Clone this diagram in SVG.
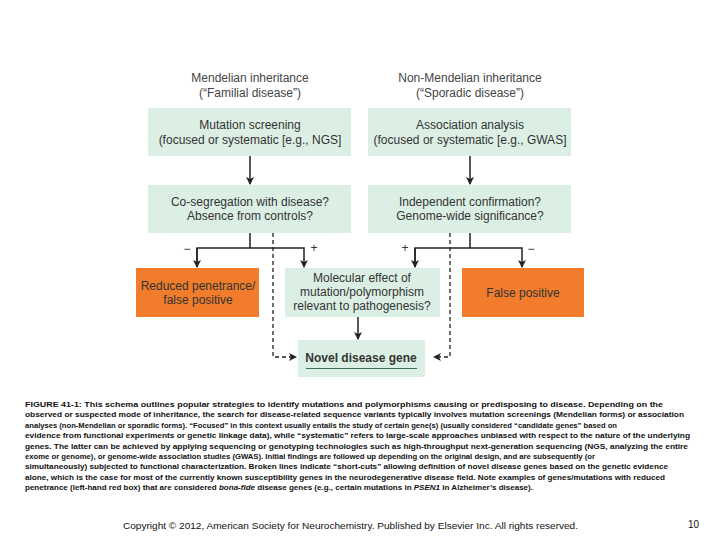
<svg xmlns="http://www.w3.org/2000/svg" width="720" height="540" viewBox="0 0 720 540">
<defs>
<style>
.hd{font-family:"Liberation Sans",Arial,sans-serif;font-size:12px;fill:#444;text-anchor:middle}
.bt{font-family:"Liberation Sans",Arial,sans-serif;font-size:12px;fill:#333;text-anchor:middle}
.g{fill:#dcefe5}
.o{fill:#f07c2c}
.ln{stroke:#222;stroke-width:1.5;fill:none}
.ds{stroke:#222;stroke-width:1.3;fill:none;stroke-dasharray:4 3}
.cap{font-family:"Liberation Sans",Arial,sans-serif;font-size:7.6px;fill:#111;font-weight:bold}
.sg{font-family:"Liberation Sans",Arial,sans-serif;font-size:12px;fill:#333;text-anchor:middle}
</style>
<marker id="ah" markerWidth="8" markerHeight="8" refX="7" refY="4" orient="auto" markerUnits="userSpaceOnUse">
<path d="M0,0 L8,4 L0,8 L2,4 Z" fill="#222"/>
</marker>
</defs>
<rect width="720" height="540" fill="#fff"/>
<g id="header-left"><text class="hd" x="250" y="82">Mendelian inheritance</text><text class="hd" x="250" y="97">(“Familial disease”)</text></g>
<g id="header-right"><text class="hd" x="470" y="82">Non-Mendelian inheritance</text><text class="hd" x="470" y="97">(“Sporadic disease”)</text></g>
<g id="mutation"><rect class="g" x="148" y="108" width="203" height="48"/><text class="bt" x="250" y="129">Mutation screening</text><text class="bt" x="250" y="144">(focused or systematic [e.g., NGS]</text></g>
<g id="association"><rect class="g" x="368" y="108" width="203" height="48"/><text class="bt" x="470" y="129">Association analysis</text><text class="bt" x="470" y="144">(focused or systematic [e.g., GWAS]</text></g>
<g id="coseg"><rect class="g" x="148" y="185" width="203" height="48"/><text class="bt" x="250" y="206">Co-segregation with disease?</text><text class="bt" x="250" y="220">Absence from controls?</text></g>
<g id="independent"><rect class="g" x="368" y="185" width="203" height="48"/><text class="bt" x="470" y="206">Independent confirmation?</text><text class="bt" x="470" y="220">Genome-wide significance?</text></g>
<g id="reduced"><rect class="o" x="136" y="268" width="123" height="49"/><text class="bt" x="198" y="290">Reduced penetrance/</text><text class="bt" x="198" y="304">false positive</text></g>
<g id="molecular"><rect class="g" x="285" y="268" width="155" height="49"/><text class="bt" x="362" y="282">Molecular effect of</text><text class="bt" x="362" y="296">mutation/polymorphism</text><text class="bt" x="362" y="310">relevant to pathogenesis?</text></g>
<g id="falsepos"><rect class="o" x="462" y="268" width="122" height="49"/><text class="bt" x="523" y="297">False positive</text></g>
<g id="novel"><rect class="g" x="298" y="340" width="127" height="37"/><text class="bt" x="361" y="362" font-weight="bold">Novel disease gene</text><line x1="306" y1="368.5" x2="417" y2="368.5" stroke="#3f6f5a" stroke-width="1"/></g>
<g id="connectors">
<line class="ln" x1="250" y1="156" x2="250" y2="184" marker-end="url(#ah)"/>
<line class="ln" x1="470" y1="156" x2="470" y2="184" marker-end="url(#ah)"/>
<polyline class="ln" points="250,233 250,248"/>
<polyline class="ln" points="197,267 197,248 304,248 304,267" marker-end="url(#ah)"/>
<line class="ln" x1="197" y1="248" x2="197" y2="267" marker-end="url(#ah)"/>
<polyline class="ln" points="470,233 470,248"/>
<polyline class="ln" points="415,267 415,248 522,248 522,267" marker-end="url(#ah)"/>
<line class="ln" x1="415" y1="248" x2="415" y2="267" marker-end="url(#ah)"/>
<line class="ln" x1="358" y1="317" x2="358" y2="339" marker-end="url(#ah)"/>
<polyline class="ds" points="273,233 273,357 296,357" marker-end="url(#ah)"/>
<polyline class="ds" points="450,233 450,357 434,357" marker-end="url(#ah)"/>
<text class="sg" x="187" y="253">−</text>
<text class="sg" x="314" y="252">+</text>
<text class="sg" x="405" y="252">+</text>
<text class="sg" x="531" y="253">−</text>
</g>
<g id="caption">
<text class="cap" x="25" y="407" textLength="638" lengthAdjust="spacingAndGlyphs">FIGURE 41-1: This schema outlines popular strategies to identify mutations and polymorphisms causing or predisposing to disease. Depending on the</text>
<text class="cap" x="25" y="417.4" textLength="659" lengthAdjust="spacingAndGlyphs">observed or suspected mode of inheritance, the search for disease-related sequence variants typically involves mutation screenings (Mendelian forms) or association</text>
<text class="cap" x="25" y="427.8" textLength="592" lengthAdjust="spacingAndGlyphs">analyses (non-Mendelian or sporadic forms). “Focused” in this context usually entails the study of certain gene(s) (usually considered “candidate genes” based on</text>
<text class="cap" x="25" y="438.2" textLength="665" lengthAdjust="spacingAndGlyphs">evidence from functional experiments or genetic linkage data), while “systematic” refers to large-scale approaches unbiased with respect to the nature of the underlying</text>
<text class="cap" x="25" y="448.6" textLength="663" lengthAdjust="spacingAndGlyphs">genes. The latter can be achieved by applying sequencing or genotyping technologies such as high-throughput next-generation sequencing (NGS, analyzing the entire</text>
<text class="cap" x="25" y="459" textLength="570" lengthAdjust="spacingAndGlyphs">exome or genome), or genome-wide association studies (GWAS). Initial findings are followed up depending on the original design, and are subsequently (or</text>
<text class="cap" x="25" y="469.4" textLength="643" lengthAdjust="spacingAndGlyphs">simultaneously) subjected to functional characterization. Broken lines indicate “short-cuts” allowing definition of novel disease genes based on the genetic evidence</text>
<text class="cap" x="25" y="479.8" textLength="640" lengthAdjust="spacingAndGlyphs">alone, which is the case for most of the currently known susceptibility genes in the neurodegenerative disease field. Note examples of genes/mutations with reduced</text>
<text class="cap" x="25" y="490.2" textLength="508" lengthAdjust="spacingAndGlyphs">penetrance (left-hand red box) that are considered <tspan font-style="italic">bona-fide</tspan> disease genes (e.g., certain mutations in <tspan font-style="italic">PSEN1</tspan> in Alzheimer’s disease).</text>
</g>
<g id="footer">
<text x="123" y="529" font-family="'Liberation Sans',Arial,sans-serif" font-size="9.5px" fill="#111" textLength="455" lengthAdjust="spacingAndGlyphs">Copyright © 2012, American Society for Neurochemistry. Published by Elsevier Inc. All rights reserved.</text>
<text x="688" y="528" font-family="'Liberation Sans',Arial,sans-serif" font-size="10px" fill="#111">10</text>
</g>
</svg>
